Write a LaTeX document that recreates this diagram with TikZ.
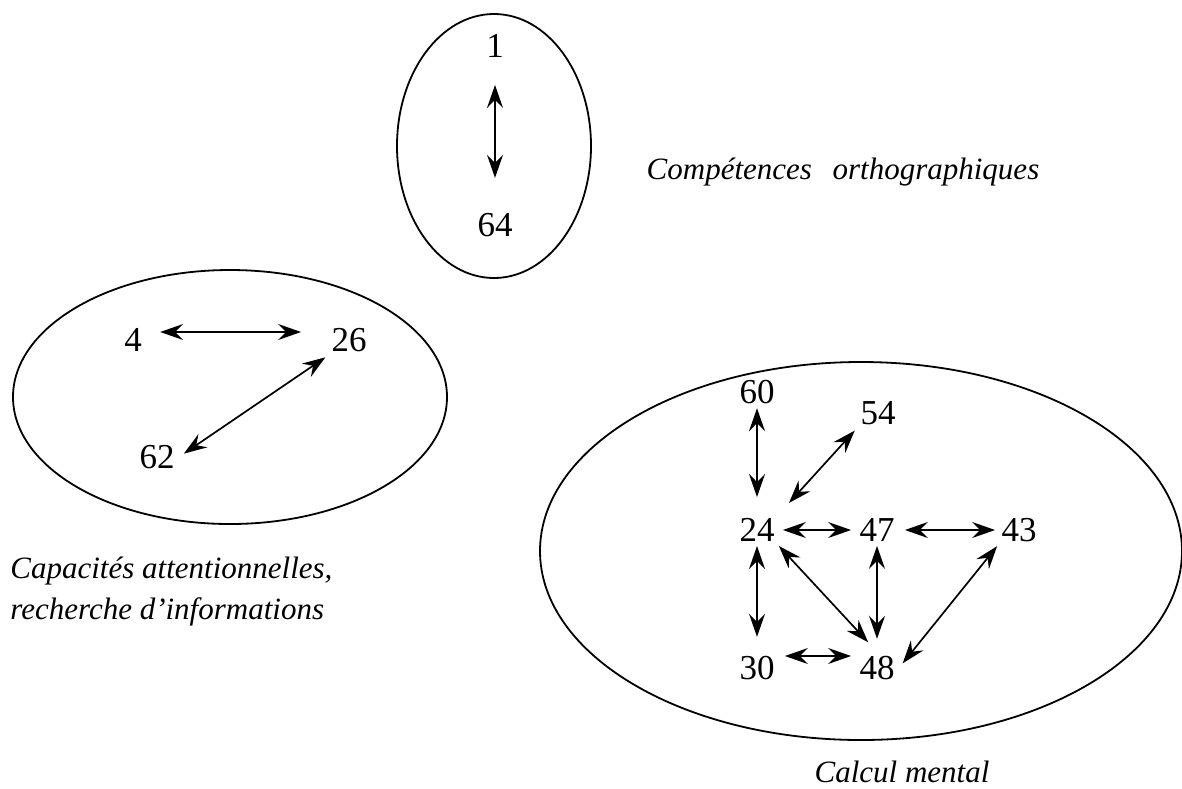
\documentclass[tikz,border=0pt]{standalone}
\usepackage{fontspec}
\setmainfont{Liberation Serif}
\usetikzlibrary{arrows.meta}
\tikzset{
  num/.style={ % a test number
    inner sep=2pt, text=black,
    font=\fontsize{17.5}{21}\selectfont
  },
  group/.style={ % the oval round a group of tests
    draw, line width=0.9pt
  },
  caption/.style={ % name of a group
    inner sep=0pt, text=black,
    font=\fontsize{15.5}{20.5}\selectfont\itshape
  },
  link/.style={ % two-way link between tests
    line width=0.85pt,
    {Stealth[length=11.5pt,width=8pt,inset=4pt]}-{Stealth[length=11.5pt,width=8pt,inset=4pt]}
  }
}
\begin{document}
\begin{tikzpicture}[x=0.5pt, y=-0.5pt]
    \useasboundingbox (0,0) rectangle (1182,788);

    % the three groups
    \draw[group] (494,146) ellipse [x radius=48.5pt, y radius=66pt];
    \draw[group] (230,397) ellipse [x radius=108.5pt, y radius=63.5pt];
    \draw[group] (861,551) ellipse [x radius=160.5pt, y radius=94.5pt];

    \node[num] (n1)  at (495,46)  {1};
    \node[num] (n64) at (495,225) {64};

    \node[num] (n4)  at (133,340) {4};
    \node[num] (n26) at (349,340) {26};
    \node[num] (n62) at (157,457) {62};

    \node[num] (n60) at (757,392) {60};
    \node[num] (n54) at (878,413) {54};
    \node[num] (n24) at (757,530) {24};
    \node[num] (n47) at (877,530) {47};
    \node[num] (n43) at (1019,530) {43};
    \node[num] (n30) at (757,668) {30};
    \node[num] (n48) at (877,668) {48};

    \node[caption] (ortho_label) at (843,172) {Compétences \,\ orthographiques};
    \node[caption, align=left, anchor=west] (attn_label) at (10,592)
      {Capacités attentionnelles,\\recherche d’informations};
    \node[caption] (calc_label) at (902,772) {Calcul mental};

    \path[link] (n1) edge[shorten <=11.5pt, shorten >=15.5pt] (n64);

    \path[link] ([yshift=4pt]n4.east) edge[shorten <=7pt, shorten >=13pt] ([yshift=4pt]n26.west);
    \path[link] (n26.south west) edge[shorten <=1pt, shorten >=3pt] (n62.east);

    \path[link] (n60) edge[shorten >=8.5pt] (n24);
    \path[link] (n54.south west) edge[shorten <=1pt, shorten >=7.5pt] (n24.north east);
    \path[link] (n24) edge[shorten <=2pt, shorten >=2pt] (n47);
    \path[link] (n47) edge[shorten <=3pt, shorten >=1pt] (n43);
    \path[link] (n24) edge[shorten >=7.5pt] (n30);
    \path[link] (n24.south east) edge[shorten >=6.5pt] (n48.north);
    \path[link] (n47) edge[shorten >=6.5pt] (n48);
    \path[link] ([yshift=6pt]n30.east) edge[shorten <=3pt, shorten >=2pt] ([yshift=6pt]n48.west);
    \path[link] (n43.south west) edge[shorten >=3pt] (n48.east);
  \end{tikzpicture}
\end{document}
